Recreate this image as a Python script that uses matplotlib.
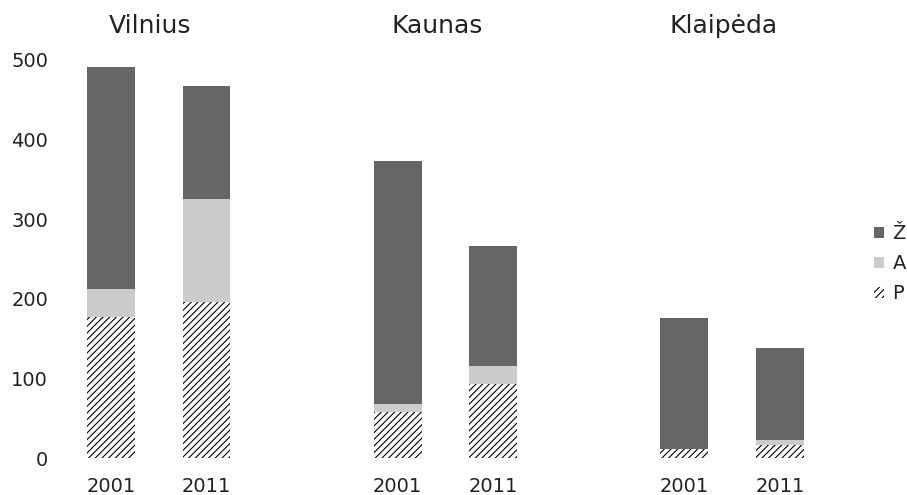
import numpy as np
import matplotlib
matplotlib.use('Agg')
import matplotlib.pyplot as plt

cities = ['Vilnius', 'Kaunas', 'Klaipėda']
years = ['2001', '2011']

# values per bar, order: Vilnius 2001, 2011, Kaunas 2001, 2011, Klaipeda 2001, 2011
p_vals = [177, 196, 58, 93, 11, 16]
a_vals = [35, 129, 10, 23, 0, 7]
z_vals = [279, 142, 305, 150, 165, 115]

x = np.array([0, 1, 3, 4, 6, 7])
p = np.array(p_vals)
a = np.array(a_vals)
z = np.array(z_vals)

plt.rcParams['hatch.linewidth'] = 0.8
txt = '#222222'

fig = plt.figure(figsize=(9.07, 4.95), dpi=100)
ax = fig.add_axes([0.0592, 0.0747, 0.9231 - 0.0592, 0.8788 - 0.0747])

bp = ax.bar(x, p, width=0.5, color='white', edgecolor='black', linewidth=0, hatch='/////', label='P')
ba = ax.bar(x, a, width=0.5, bottom=p, color='#cccccc', linewidth=0, label='A')
bz = ax.bar(x, z, width=0.5, bottom=p + a, color='#666666', linewidth=0, label='Ž')

ax.set_xlim(-0.6, 7.6)
ax.set_ylim(0, 500)
ax.set_yticks([0, 100, 200, 300, 400, 500])
ax.set_xticks(x)
ax.set_xticklabels(years * 3)
ax.tick_params(length=0, labelsize=14, colors=txt)
ax.tick_params(axis='x', pad=14)
ax.tick_params(axis='y', pad=4)
for s in ax.spines.values():
    s.set_visible(False)

for i, c in enumerate(cities):
    ax.text(3 * i + 0.41, 1.085, c, transform=ax.get_xaxis_transform(),
            ha='center', va='center', fontsize=18, color=txt)

fig.legend([bz, ba, bp], ['Ž', 'A', 'P'], loc='center left',
           bbox_to_anchor=(0.9636, 0.467), frameon=False, borderpad=0,
           borderaxespad=0, handlelength=0.5, handleheight=0.5,
           handletextpad=0.45, labelspacing=0.56, fontsize=14, labelcolor=txt)

fig.savefig('out.png', dpi=100)
